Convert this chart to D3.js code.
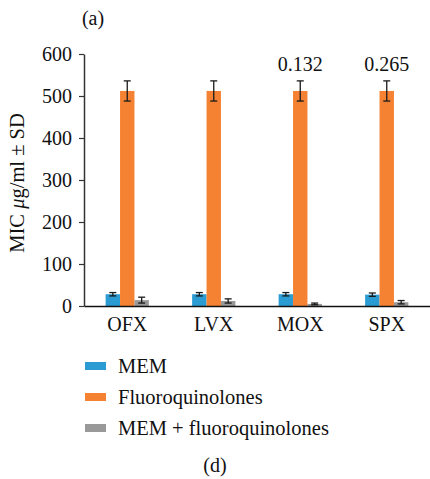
<!DOCTYPE html>
<html><head><meta charset="utf-8">
<script src="https://cdn.jsdelivr.net/npm/d3@7"></script>
<style>body{margin:0;background:#fff}svg{display:block;font-family:"Liberation Serif","DejaVu Serif",serif}</style>
</head><body><svg id="c" width="430" height="479"></svg>
<script>
const categories = ["OFX","LVX","MOX","SPX"];
const seriesNames = ["MEM","Fluoroquinolones","MEM + fluoroquinolones"];
const memValues = [28, 28, 28, 27];
const memErr = [4, 4, 4, 4];
const fqValues = [512, 512, 512, 512];
const fqErr = [24, 24, 24, 24];
const comboValues = [14, 12, 5, 9];
const comboErr = [7, 5, 2, 4];
const annotations = ["", "", "0.132", "0.265"];
const yTicks = [0,100,200,300,400,500,600];
const colors = ["#2b9bd3","#f58232","#999999"];
const FONT = "Liberation Serif";

const svg = d3.select("#c");
const x = d3.scaleBand().domain(categories).range([84,430]).paddingInner(0.5).paddingOuter(0.25);
const xs = d3.scaleBand().domain(seriesNames).range([0, x.bandwidth()]);
const y = d3.scaleLinear().domain([0,600]).range([306,54]);
const axisColor = "#333";

const data = [];
categories.forEach((c,i)=>{
  data.push({c, s:seriesNames[0], v:memValues[i], e:memErr[i], k:0});
  data.push({c, s:seriesNames[1], v:fqValues[i], e:fqErr[i], k:1});
  data.push({c, s:seriesNames[2], v:comboValues[i], e:comboErr[i], k:2});
});

svg.selectAll("rect.bar").data(data).join("rect").attr("class","bar")
  .attr("x", d=>x(d.c)+xs(d.s)).attr("width", xs.bandwidth())
  .attr("y", d=>y(d.v)).attr("height", d=>y(0)-y(d.v)).attr("fill", d=>colors[d.k]);

const cx = d=>x(d.c)+xs(d.s)+xs.bandwidth()/2;
const eg = svg.selectAll("g.err").data(data).join("g").attr("class","err")
  .attr("stroke","#1a1a1a").attr("stroke-width",1.3);
eg.append("line").attr("x1",cx).attr("x2",cx)
  .attr("y1",d=>y(d.v+d.e)).attr("y2",d=>y(Math.max(0,d.v-d.e)));
eg.append("line").attr("x1",d=>cx(d)-3.5).attr("x2",d=>cx(d)+3.5)
  .attr("y1",d=>y(d.v+d.e)).attr("y2",d=>y(d.v+d.e));
eg.append("line").attr("x1",d=>cx(d)-3.5).attr("x2",d=>cx(d)+3.5)
  .attr("y1",d=>y(Math.max(0,d.v-d.e))).attr("y2",d=>y(Math.max(0,d.v-d.e)));

// y axis
const ya = svg.append("g").attr("transform","translate(84,0)")
  .call(d3.axisLeft(y).tickValues(yTicks).tickSize(5).tickPadding(7).tickSizeOuter(0));
ya.attr("font-family",FONT);
ya.select(".domain").attr("stroke",axisColor).attr("stroke-width",1.5);
ya.selectAll(".tick line").attr("stroke",axisColor).attr("stroke-width",1.2);
ya.selectAll(".tick text").attr("font-size",20).attr("fill","#111");

// x axis
const xa = svg.append("g").attr("transform","translate(0,306)")
  .call(d3.axisBottom(x).tickSize(0).tickPadding(11).tickSizeOuter(0));
xa.attr("font-family",FONT);
xa.select(".domain").attr("stroke","#111").attr("stroke-width",1.5);
xa.selectAll(".tick text").attr("font-size",20).attr("fill","#111");

// annotations
svg.selectAll("text.ann").data(categories).join("text").attr("class","ann")
  .attr("x", c=>x(c)+x.bandwidth()/2).attr("y",71).attr("text-anchor","middle")
  .attr("font-size",20).attr("fill","#111").text((c,i)=>annotations[i]);

// y title
const yt = svg.append("text").attr("transform","translate(24,183) rotate(-90)")
  .attr("text-anchor","middle").attr("font-size",20.5).attr("fill","#111");
yt.append("tspan").text("MIC ");
yt.append("tspan").attr("font-style","italic").text("μ");
yt.append("tspan").text("g/ml ± SD");

// (a)
svg.append("text").attr("x",93).attr("y",25).attr("text-anchor","middle").attr("font-size",20).attr("fill","#111").text("(a)");

// legend
const lg = svg.selectAll("g.lg").data(seriesNames).join("g").attr("class","lg")
  .attr("transform",(d,i)=>`translate(85,${366 + i*31})`);
lg.append("rect").attr("x",0).attr("y",-4).attr("width",21).attr("height",8).attr("fill",(d,i)=>colors[i]);
lg.append("text").attr("x",33).attr("y",6.5).attr("font-size",20.5).attr("fill","#111").text(d=>d);

svg.append("text").attr("x",215).attr("y",472).attr("text-anchor","middle").attr("font-size",20).attr("fill","#111").text("(d)");
</script></body></html>
